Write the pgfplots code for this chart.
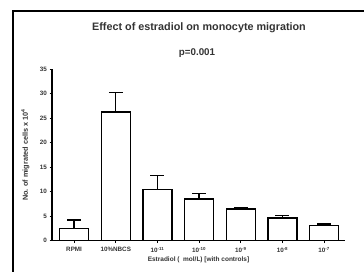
\documentclass[border=0pt]{standalone}
\usepackage{pgfplots}
\pgfplotsset{compat=1.18}
\usepackage{fontspec}
\setmainfont{Liberation Sans}
\begin{document}
\begin{tikzpicture}[x=1pt,y=1pt]
\path[use as bounding box] (0,0) rectangle (364,271);
\draw[line width=1.6pt] (13,-5) -- (13,260) -- (370,260);
\node[font=\fontsize{10.8}{12}\selectfont\bfseries, text=black!80] at (199,243) {Effect of estradiol on monocyte migration};
\node[font=\fontsize{9.8}{11}\selectfont\bfseries, text=black!80] at (197,218) {p=0.001};
\begin{axis}[
  at={(52pt,30.3pt)}, anchor=south west,
  scale only axis, width=293pt, height=171.5pt,
  xmin=-0.53, xmax=6.5, ymin=0, ymax=35,
  axis x line*=bottom, axis y line*=left,
  axis line style={line width=1.1pt},
  xtick={0,1,2,3,4,5,6},
  xticklabels={RPMI,10\%NBCS,10\textsuperscript{-11},10\textsuperscript{-10},10\textsuperscript{-9},10\textsuperscript{-8},10\textsuperscript{-7}},
  ytick={0,5,...,35},
  tick align=outside, major tick length=2.5pt,
  tick style={line width=0.9pt, black},
  /pgf/number format/assume math mode=true,
  tick label style={font=\fontsize{6.3}{7}\selectfont\bfseries, text=black!80},
  yticklabel style={xshift=1pt},
  xticklabel style={yshift=-0.5pt},
  ylabel={No. of migrated cells x 10\textsuperscript{4}},
  ylabel style={font=\fontsize{7.3}{8}\selectfont\bfseries, text=black!80, at={(axis description cs:-0.065,0.5)}},
  xlabel={Estradiol (\ \ mol/L) [with controls]},
  xlabel style={font=\fontsize{6.5}{7}\selectfont\bfseries, text=black!80, at={(axis description cs:0.5,-0.0)}, yshift=-19.5pt, anchor=center},
]
\addplot[ybar, bar width=29pt, fill=white, draw=black, line width=1.5pt,
  error bars/.cd, y dir=plus, y explicit,
  error bar style={line width=1.3pt},
  error mark options={line width=1.3pt, mark size=7pt, rotate=90}]
coordinates {
(0,2.5) +- (0,1.7)
(1,26.3) +- (0,4.0)
(2,10.5) +- (0,2.8)
(3,8.5) +- (0,1.1)
(4,6.5) +- (0,0.2)
(5,4.6) +- (0,0.5)
(6,3.1) +- (0,0.3)
};
\end{axis}
\end{tikzpicture}
\end{document}
